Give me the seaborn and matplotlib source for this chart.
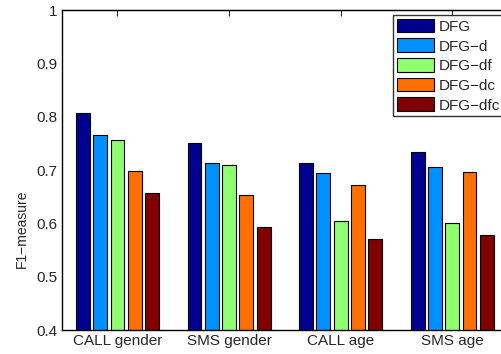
import matplotlib
matplotlib.use("Agg")
import matplotlib.pyplot as plt
import seaborn as sns
import pandas as pd

categories = ["CALL gender", "SMS gender", "CALL age", "SMS age"]
methods = ["DFG", "DFG\u2212d", "DFG\u2212df", "DFG\u2212dc", "DFG\u2212dfc"]
dfg = [0.806, 0.751, 0.713, 0.734]
dfg_d = [0.766, 0.713, 0.694, 0.706]
dfg_df = [0.756, 0.709, 0.604, 0.600]
dfg_dc = [0.698, 0.653, 0.671, 0.696]
dfg_dfc = [0.656, 0.594, 0.570, 0.579]
yticks = [0.4, 0.5, 0.6, 0.7, 0.8, 0.9, 1.0]
ytick_labels = ["0.4", "0.5", "0.6", "0.7", "0.8", "0.9", "1"]
colors = ["#000090", "#0090FF", "#90FF70", "#FF7000", "#800000"]

series = [dfg, dfg_d, dfg_df, dfg_dc, dfg_dfc]
rows = []
for m, vals in zip(methods, series):
    for c, v in zip(categories, vals):
        rows.append({"category": c, "method": m, "value": v})
df = pd.DataFrame(rows)

sns.set_style("white")
plt.rcParams["font.family"] = ["Liberation Sans", "DejaVu Sans"]

fig = plt.figure(figsize=(5.01, 3.54), dpi=100)
ax = fig.add_axes([61.7 / 501, 24 / 354, (508 - 61.7) / 501, 320 / 354])

sns.barplot(data=df, x="category", y="value", hue="method", order=categories,
            hue_order=methods, palette=colors, width=0.775, gap=0.2,
            edgecolor="black", linewidth=0.8, saturation=1, ax=ax, legend=True)

ax.set_ylim(0.4, 1.0)
ax.set_xlim(-0.5, 3.5)
ax.set_yticks(yticks)
ax.set_yticklabels(ytick_labels)
ax.set_xlabel("")
ax.set_ylabel("F1\u2212measure", fontsize=10)
ax.yaxis.set_label_coords((29 - 61.7) / 446.3, (330 - 229) / 320)
ax.tick_params(axis="both", direction="in", labelsize=11, length=4, width=0.8,
               top=True, right=True, pad=3)
ax.tick_params(axis="x", length=0, pad=3)
for s in ax.spines.values():
    s.set_color("black")
    s.set_linewidth(1.0)
# top tick marks at group centres
ax2 = ax.secondary_xaxis("top")
ax2.set_xticks(range(len(categories)))
ax2.set_xticklabels([])
ax2.tick_params(direction="in", length=4, width=0.8)

leg = ax.legend(loc="upper left", bbox_to_anchor=(393.3 / 501, 1 - 15 / 354),
                bbox_transform=fig.transFigure, frameon=True, fancybox=False,
                fontsize=11, handlelength=2.4, handleheight=1.0,
                borderpad=0.25, labelspacing=0.3, handletextpad=0.3,
                borderaxespad=0)
leg.get_frame().set_edgecolor("black")
leg.get_frame().set_linewidth(1.0)

fig.savefig("out.png", dpi=100)
